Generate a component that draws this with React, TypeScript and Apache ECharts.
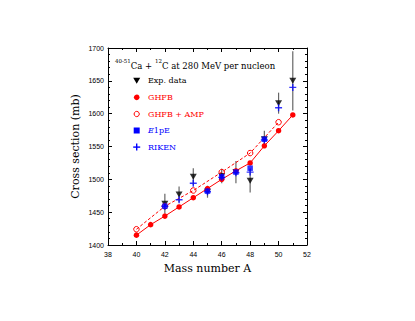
import React, { useEffect, useRef } from "react";
import * as echarts from "echarts";

const ghfbMass = [40, 41, 42, 43, 44, 45, 46, 47, 48, 49, 50, 51];
const ghfbValues = [1415, 1431, 1444, 1458, 1472, 1486, 1500, 1513, 1525, 1551, 1574, 1598];
const ampMass = [40, 42, 44, 46, 48, 50];
const ampValues = [1424, 1459, 1483, 1511, 1540, 1587];
const expMass = [42, 43, 44, 45, 46, 47, 48, 49, 50, 51];
const expValues = [1463, 1477, 1504, 1481, 1505, 1511, 1498, 1561, 1616, 1650];
const expErrors = [15, 12, 13, 9, 11, 17, 18, 13, 16, 45];
const e1peMass = [42, 45, 46, 47, 48, 49];
const e1peValues = [1459, 1482, 1504, 1511, 1517, 1561];
const rikenMass = [42, 43, 44, 45, 46, 47, 48, 49, 50, 51];
const rikenValues = [1459, 1469, 1494, 1481, 1503, 1510, 1511, 1560, 1609, 1640];
const legendLabels = ["Exp. data", "GHFB", "GHFB + AMP", "{i|E}{n|1pE}", "RIKEN"];

const RED = "#ff0000";
const BLUE = "#0000ff";
const SERIF = "'DejaVu Serif', 'Liberation Serif', serif";
const SANS = "'Liberation Sans', Arial, sans-serif";
const TRI = "path://M0,0L10,0L5,9Z";
const PLUS = "path://M4,0h2v4h4v2h-4v4h-2v-4h-4v-2h4z";

export default function App() {
  const ref = useRef<HTMLDivElement>(null);
  useEffect(() => {
    if (!ref.current) return;
    const chart = echarts.init(ref.current, undefined, { renderer: "svg" });
    const pair = (xs: number[], ys: number[]) => xs.map((x, i) => [x, ys[i]]);
    const axisCommon = {
      axisLine: { show: true, onZero: false, lineStyle: { color: "#000", width: 1 } },
      axisTick: { show: true, inside: true, length: 4, lineStyle: { color: "#000" } },
      minorTick: { show: true, length: 2, lineStyle: { color: "#000" } },
      splitLine: { show: false },
    };
    const legendColors = ["#000", RED, RED, BLUE, BLUE];
    const rowY = [80.7, 97.3, 114, 130.5, 147];
    const symX = 136.7;
    const legendSymbols: any[] = [
      { type: "polygon", shape: { points: [[symX - 3.5, rowY[0] - 3], [symX + 3.5, rowY[0] - 3], [symX, rowY[0] + 3]] }, style: { fill: "#000" } },
      { type: "circle", shape: { cx: symX, cy: rowY[1], r: 2.8 }, style: { fill: RED } },
      { type: "circle", shape: { cx: symX, cy: rowY[2], r: 2.6 }, style: { fill: "none", stroke: RED, lineWidth: 1 } },
      { type: "rect", shape: { x: symX - 3, y: rowY[3] - 3, width: 6, height: 6 }, style: { fill: BLUE } },
      { type: "rect", shape: { x: symX - 3.5, y: rowY[4] - 0.6, width: 7, height: 1.4 }, style: { fill: BLUE } },
      { type: "rect", shape: { x: symX - 0.7, y: rowY[4] - 3.5, width: 1.4, height: 7 }, style: { fill: BLUE } },
    ];
    const legendTexts = legendLabels.map((t, i) => ({
      type: "text",
      x: 148,
      y: rowY[i],
      style: {
        text: t,
        fill: legendColors[i],
        font: `8px ${SERIF}`,
        verticalAlign: "middle",
        rich: {
          i: { fontStyle: "italic", fontSize: 8, fontFamily: SERIF, fill: legendColors[i] },
          n: { fontSize: 8, fontFamily: SERIF, fill: legendColors[i] },
        },
      },
    }));
    const plainLabel = (v: number) => String(v);
    chart.setOption({
      animation: false,
      backgroundColor: "#fff",
      grid: { left: 108, right: 108, top: 48, bottom: 76 },
      xAxis: [
        {
          ...axisCommon,
          type: "value",
          min: 38,
          max: 52,
          interval: 2,
          minorTick: { ...axisCommon.minorTick, splitNumber: 2 },
          axisLabel: { fontSize: 7, fontFamily: SANS, color: "#000", margin: 6, formatter: plainLabel },
          name: "Mass number A",
          nameLocation: "middle",
          nameGap: 15,
          nameTextStyle: { fontSize: 11, fontFamily: SERIF, color: "#000" },
        },
        {
          ...axisCommon,
          type: "value",
          position: "top",
          min: 38,
          max: 52,
          interval: 2,
          minorTick: { ...axisCommon.minorTick, splitNumber: 2 },
          axisLabel: { show: false },
        },
      ],
      yAxis: [
        {
          ...axisCommon,
          type: "value",
          min: 1400,
          max: 1700,
          interval: 50,
          minorTick: { ...axisCommon.minorTick, splitNumber: 5 },
          axisLabel: { fontSize: 7, fontFamily: SANS, color: "#000", margin: 4, formatter: plainLabel },
          name: "Cross section (mb)",
          nameLocation: "middle",
          nameGap: 27,
          nameTextStyle: { fontSize: 11, fontFamily: SERIF, color: "#000" },
        },
        {
          ...axisCommon,
          type: "value",
          position: "right",
          min: 1400,
          max: 1700,
          interval: 50,
          minorTick: { ...axisCommon.minorTick, splitNumber: 5 },
          axisLabel: { show: false },
        },
      ],
      graphic: [
        {
          type: "text",
          x: 115,
          y: 64,
          style: {
            text: "{s|40-51}{n|Ca + }{s|12}{n|C at 280 MeV per nucleon}",
            verticalAlign: "middle",
            rich: {
              s: { fontSize: 5.5, fontFamily: SERIF, fill: "#000", verticalAlign: "top", lineHeight: 12 },
              n: { fontSize: 8.5, fontFamily: SERIF, fill: "#000", verticalAlign: "bottom", lineHeight: 12 },
            },
          },
        },
        ...legendSymbols,
        ...legendTexts,
      ],
      series: [
        {
          type: "custom",
          name: "errors",
          data: expMass.map((m, i) => [m, expValues[i] - expErrors[i], expValues[i] + expErrors[i]]),
          encode: { x: 0, y: [1, 2] },
          renderItem: (params: any, api: any) => {
            const p1 = api.coord([api.value(0), api.value(1)]);
            const p2 = api.coord([api.value(0), api.value(2)]);
            return {
              type: "line",
              shape: { x1: p1[0], y1: p1[1], x2: p2[0], y2: p2[1] },
              style: { stroke: "#666", lineWidth: 1.2 },
            };
          },
          z: 1,
        },
        {
          type: "scatter",
          name: "Exp. data",
          data: pair(expMass, expValues),
          symbol: TRI,
          symbolSize: [7, 6],
          itemStyle: { color: "#000" },
          z: 2,
        },
        {
          type: "line",
          name: "GHFB",
          data: pair(ghfbMass, ghfbValues),
          symbol: "circle",
          symbolSize: 5.5,
          showAllSymbol: true,
          lineStyle: { color: RED, width: 1 },
          itemStyle: { color: RED },
          z: 3,
        },
        {
          type: "line",
          name: "GHFB + AMP",
          data: pair(ampMass, ampValues),
          symbol: "circle",
          symbolSize: 5.5,
          showAllSymbol: true,
          lineStyle: { color: RED, width: 1, type: [3, 2] },
          itemStyle: { color: "rgba(255,255,255,0)", borderColor: RED, borderWidth: 1 },
          z: 3,
        },
        {
          type: "scatter",
          name: "E1pE",
          data: pair(e1peMass, e1peValues),
          symbol: "rect",
          symbolSize: 5.5,
          itemStyle: { color: BLUE },
          z: 4,
        },
        {
          type: "scatter",
          name: "RIKEN",
          data: pair(rikenMass, rikenValues),
          symbol: PLUS,
          symbolSize: 7,
          itemStyle: { color: BLUE },
          z: 5,
        },
      ],
    });
    return () => chart.dispose();
  }, []);
  return <div ref={ref} style={{ position: "fixed", left: 0, top: 0, width: 415, height: 321 }} />;
}
